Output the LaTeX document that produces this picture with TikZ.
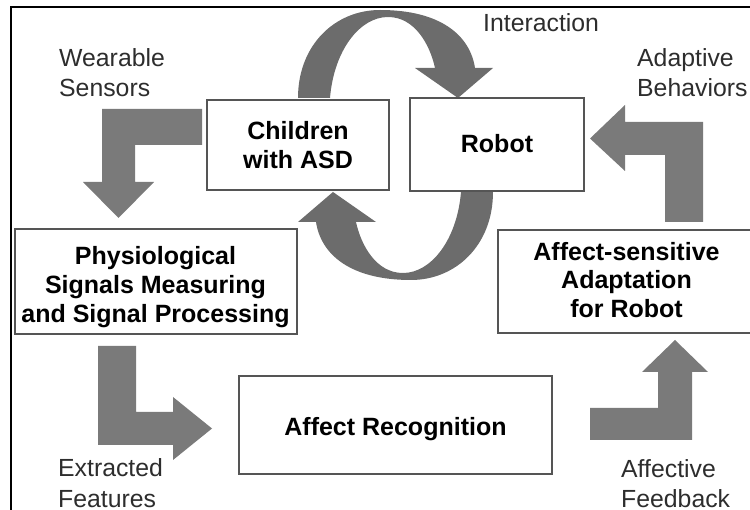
\documentclass[tikz,border=0pt]{standalone}
\usepackage{fontspec}
\setmainfont{Liberation Sans}
\definecolor{boxgray}{RGB}{85,85,85}
\definecolor{arrowgray}{RGB}{122,122,122}
\definecolor{curvegray}{RGB}{108,108,108}
\definecolor{lblcol}{RGB}{45,45,45}
\begin{document}
\begin{tikzpicture}[x=1pt,y=-1pt,
  box/.style={draw=boxgray, line width=1.4pt, fill=white, inner sep=0pt},
  boxtext/.style={font=\bfseries\fontsize{25}{28.8}\selectfont, align=center, inner sep=0pt, text=black},
  lbl/.style={font=\fontsize{24.8}{30.5}\selectfont, align=left, inner sep=0pt, anchor=west, text=lblcol},
  blockarrow/.style={fill=arrowgray, draw=none},
  curvearrow/.style={fill=curvegray, draw=none},
  frameline/.style={draw=black, line width=2pt},
]
\useasboundingbox (0,0) rectangle (750,510);
% frame
\coordinate (fTL) at (11,7);
\coordinate (fTR) at (750,7);
\coordinate (fBL) at (11,510);
\draw[frameline] (fTR) -- (fTL) -- (fBL);

% curved interaction arrows
\path[curvearrow] (298,98) .. controls (298,45) and (335,10) .. (380,10)
  .. controls (440,10) and (470,35) .. (475,68) -- (493,68) -- (458,98) -- (415,68) -- (435,68)
  .. controls (430,45) and (415,17) .. (388,17) .. controls (360,17) and (334,50) .. (330,98) -- cycle;
\path[curvearrow, rotate around={180:(395.5,145)}] (298,98) .. controls (298,45) and (335,10) .. (380,10)
  .. controls (440,10) and (470,35) .. (475,68) -- (493,68) -- (458,98) -- (415,68) -- (435,68)
  .. controls (430,45) and (415,17) .. (388,17) .. controls (360,17) and (334,50) .. (330,98) -- cycle;

% boxes
\node[box, minimum width=182, minimum height=90] (children) at (298,145) {};
\node[box, minimum width=174, minimum height=93] (robot) at (497,144.5) {};
\node[box, minimum width=282, minimum height=105] (phys) at (156,281.5) {};
\node[box, minimum width=255, minimum height=103] (adapt) at (625.5,281.5) {};
\node[box, minimum width=313, minimum height=98] (recog) at (395.5,425) {};

% box texts
\node[boxtext] (tchildren) at (298,145) {Children\\with ASD};
\node[boxtext] (trobot) at (497,144) {Robot};
\node[boxtext] (tphys) at (155.5,287) {Physiological\\Signals Measuring\\and Signal Processing};
\node[boxtext] (tadapt) at (626.5,280) {Affect-sensitive\\Adaptation\\for Robot};
\node[boxtext] (trecog) at (395.5,429.5) {Affect Recognition};

% block arrows
\path[blockarrow] (202,109) -- (102,109) -- (102,182) -- (83,182) -- (118.5,218) -- (154,182)
  -- (135,182) -- (135,145) -- (202,145) -- cycle;
\path[blockarrow] (665,222) -- (703,222) -- (703,122) -- (625,122) -- (625,105) -- (590,138.5)
  -- (625,171) -- (625,155) -- (665,155) -- cycle;
\path[blockarrow] (98,346) -- (136,346) -- (136,412) -- (173,412) -- (173,397) -- (212,428.5)
  -- (173,460) -- (173,445) -- (98,445) -- cycle;
\path[blockarrow] (590,408) -- (658,408) -- (658,372) -- (642,372) -- (675,340) -- (708,372)
  -- (692,372) -- (692,440) -- (590,440) -- cycle;

% labels
\node[lbl] (lwear) at (59,72.5) {Wearable\\Sensors};
\node[lbl] (ladapt) at (637,72.5) {Adaptive\\Behaviors};
\node[lbl, anchor=base west] (linter) at (483,32) {Interaction};
\node[lbl] (lextr) at (58,483) {Extracted\\Features};
\node[lbl] (laff) at (621,483.5) {Affective\\Feedback};
\end{tikzpicture}
\end{document}
